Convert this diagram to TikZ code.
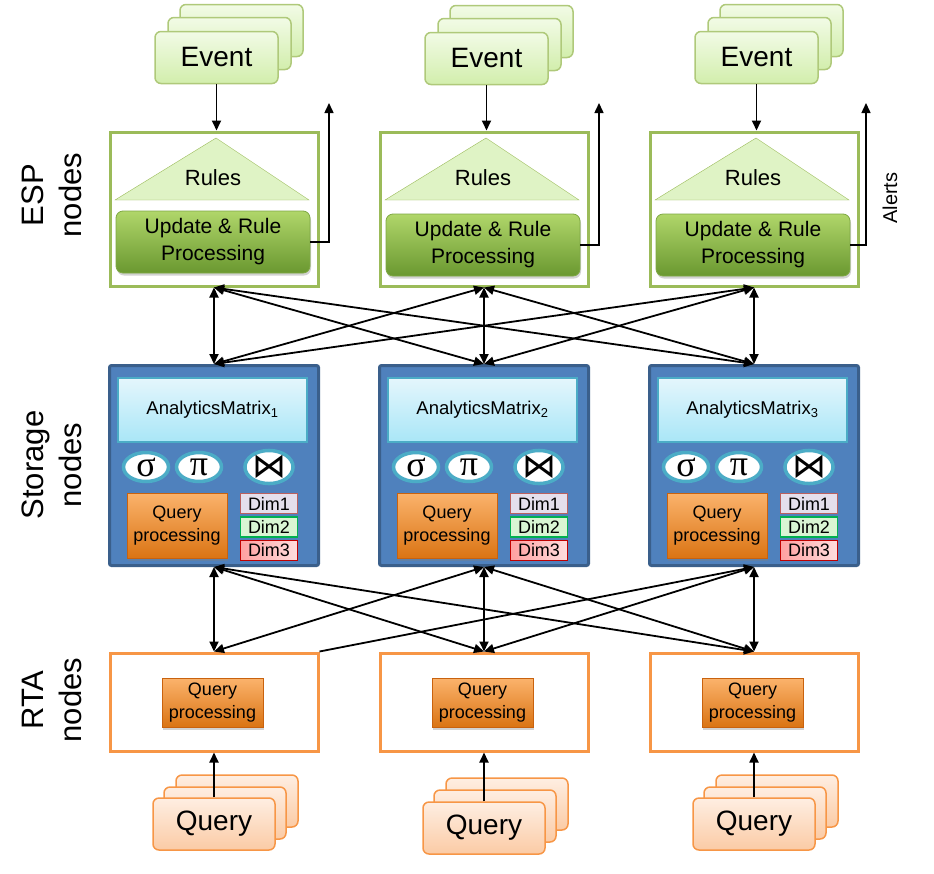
\documentclass[tikz,border=0pt]{standalone}
\usepackage{fontspec}
\setmainfont{Liberation Sans}
\newfontfamily\greekfont{Liberation Serif}
\newfontfamily\opsymfont{DejaVu Sans}
\usetikzlibrary{arrows.meta, positioning, shapes.geometric, shadows}

\definecolor{espgreen}{HTML}{9BBB59}
\definecolor{evtop}{HTML}{F2FBE6}
\definecolor{evbot}{HTML}{D2EEAC}
\definecolor{updtop}{HTML}{B0D66A}
\definecolor{updbot}{HTML}{6A9830}
\definecolor{updedge}{HTML}{7FA844}
\definecolor{stblue}{HTML}{4F81BD}
\definecolor{stedge}{HTML}{3A5F8B}
\definecolor{amtop}{HTML}{E4F6FC}
\definecolor{ambot}{HTML}{A9E6F7}
\definecolor{amedge}{HTML}{4BACC6}
\definecolor{qptop}{HTML}{FBB36C}
\definecolor{qpmid}{HTML}{F7962F}
\definecolor{qpbot}{HTML}{DA7414}
\definecolor{qpedge}{HTML}{C9620E}
\definecolor{rtaorange}{HTML}{F79646}
\definecolor{qutop}{HTML}{FEEEE2}
\definecolor{qubot}{HTML}{FBCBA5}
\definecolor{dimapurple}{HTML}{E4DFEC}
\definecolor{dimaedge}{HTML}{B9605E}
\definecolor{dimbgreen}{HTML}{D9F5D3}
\definecolor{dimbedge}{HTML}{00B050}
\definecolor{dimcred}{HTML}{FFA0A0}
\definecolor{dimcedge}{HTML}{C00000}

\begin{document}
\begin{tikzpicture}[x=1pt, y=-1pt, >={Triangle[length=10pt,width=9pt]},
    every node/.style={inner sep=0pt},
    evcard/.style={draw=espgreen!80!white, line width=1.5pt, rounded corners=6pt,
        top color=evtop, bottom color=evbot, minimum width=123pt, minimum height=52pt,
        font=\fontsize{28}{32}\selectfont},
    espbox/.style={draw=espgreen, line width=3pt, fill=white,
        minimum width=208pt, minimum height=154pt},
    updbox/.style={draw=updedge, line width=0.8pt, rounded corners=7pt,
        top color=updtop, bottom color=updbot, minimum width=194pt, minimum height=62pt,
        align=center, font=\fontsize{21}{27}\selectfont,
        drop shadow={shadow xshift=1pt, shadow yshift=-2.5pt, opacity=0.35}},
    stbox/.style={draw=stedge, line width=3pt, fill=stblue, rounded corners=2pt,
        minimum width=209pt, minimum height=200pt},
    ambox/.style={draw=amedge, line width=2pt, top color=amtop, bottom color=ambot,
        minimum width=189pt, minimum height=64pt, font=\fontsize{18.5}{20}\selectfont},
    opnode/.style={ellipse, draw=amedge, line width=3.5pt, fill=white,
        minimum width=45pt, minimum height=29pt, font=\fontsize{36}{36}\selectfont},
    qpbox/.style={draw=qpedge, line width=0.8pt, top color=qptop, middle color=qpmid,
        bottom color=qpbot, align=center, font=\fontsize{18}{23}\selectfont,
        drop shadow={shadow xshift=1pt, shadow yshift=-2.5pt, opacity=0.35}},
    dimbox/.style={line width=1.5pt, minimum width=57pt, minimum height=20pt,
        font=\fontsize{18}{20}\selectfont},
    rtabox/.style={draw=rtaorange, line width=3pt, fill=white,
        minimum width=208pt, minimum height=98pt},
    qucard/.style={draw=rtaorange, line width=1.5pt, rounded corners=6pt,
        top color=qutop, bottom color=qubot, minimum width=122pt, minimum height=52pt,
        font=\fontsize{28}{32}\selectfont},
    lbl/.style={rotate=90, align=center, font=\fontsize{31}{38}\selectfont},
    link/.style={<->, line width=1.8pt}]

    \useasboundingbox (0,0) rectangle (934,873);

    % row labels
    \node[lbl] (lesp) at (52,195) {ESP\\nodes};
    \node[lbl] (lsto) at (52,465) {Storage\\nodes};
    \node[lbl] (lrta) at (52,700) {RTA\\nodes};

    % ---- column 1
    \node[evcard] (Eb1) at (241.5,30.5) {};
    \node[evcard] (Em1) at (229.5,43.5) {};
    \node[evcard] (E1) at (216.5,57.5) {Event};
    \node[espbox] (ESP1) at (214,209) {};
    \draw[draw=espgreen, fill=evbot!70!white] (216,138) -- (115,200) -- (309,200) -- cycle;
    \node[font=\fontsize{22}{24}\selectfont] (rul1) at (213,178) {Rules};
    \node[updbox] (U1) at (213,242) {Update \& Rule\\Processing};
    \coordinate (al1) at (329,103);
    \draw[->, line width=1.8pt] (E1.south) -- (E1.south |- ESP1.north);
    \draw[->, line width=1.5pt] (U1.east) -| (al1);

    \node[stbox] (S1) at (214,465.5) {};
    \node[ambox] (M1) at (212.5,410) {AnalyticsMatrix\textsubscript{1}};
    \node[opnode] (sig1) at (146,467) {\greekfont σ};
    \node[opnode] (pi1) at (199,467) {\greekfont π};
    \node[opnode, font=\opsymfont\fontsize{34}{34}\selectfont] (join1) at (269,467) {⋈};
    \node[qpbox, minimum width=100pt, minimum height=65pt] (QS1) at (177,525.5) {Query\\processing};
    \node[dimbox, draw=dimaedge, fill=dimapurple] (Da1) at (269,503.5) {Dim1};
    \node[dimbox, draw=dimbedge, fill=dimbgreen, below=2pt of Da1] (Db1) {Dim2};
    \node[dimbox, draw=dimcedge, left color=dimcred, right color=dimcred!35!white, below=2pt of Db1] (Dc1) {Dim3};

    \node[rtabox] (T1) at (214,702) {};
    \node[qpbox, minimum width=101pt, minimum height=49pt] (QR1) at (212.5,702.5) {Query\\processing};
    \node[qucard] (Qb1) at (237,801) {};
    \node[qucard] (Qm1) at (225,813) {};
    \node[qucard] (Q1) at (214,824) {Query};
    \draw[->, line width=1.8pt] (Q1.north) -- (T1.south);

    % ---- column 2
    \node[evcard] (Eb2) at (511.5,31.5) {};
    \node[evcard] (Em2) at (499.5,44.5) {};
    \node[evcard] (E2) at (486.5,58.5) {Event};
    \node[espbox] (ESP2) at (484,209) {};
    \draw[draw=espgreen, fill=evbot!70!white] (486,138) -- (385,200) -- (579,200) -- cycle;
    \node[font=\fontsize{22}{24}\selectfont] (rul2) at (483,178) {Rules};
    \node[updbox] (U2) at (483,245) {Update \& Rule\\Processing};
    \coordinate (al2) at (599,103);
    \draw[->, line width=1.8pt] (E2.south) -- (E2.south |- ESP2.north);
    \draw[->, line width=1.5pt] (U2.east) -| (al2);

    \node[stbox] (S2) at (484,465.5) {};
    \node[ambox] (M2) at (482.5,410) {AnalyticsMatrix\textsubscript{2}};
    \node[opnode] (sig2) at (416,467) {\greekfont σ};
    \node[opnode] (pi2) at (469,467) {\greekfont π};
    \node[opnode, font=\opsymfont\fontsize{34}{34}\selectfont] (join2) at (539,467) {⋈};
    \node[qpbox, minimum width=100pt, minimum height=65pt] (QS2) at (447,525.5) {Query\\processing};
    \node[dimbox, draw=dimaedge, fill=dimapurple] (Da2) at (539,503.5) {Dim1};
    \node[dimbox, draw=dimbedge, fill=dimbgreen, below=2pt of Da2] (Db2) {Dim2};
    \node[dimbox, draw=dimcedge, left color=dimcred, right color=dimcred!35!white, below=2pt of Db2] (Dc2) {Dim3};

    \node[rtabox] (T2) at (484,702) {};
    \node[qpbox, minimum width=101pt, minimum height=49pt] (QR2) at (482.5,702.5) {Query\\processing};
    \node[qucard] (Qb2) at (507,804) {};
    \node[qucard] (Qm2) at (495,816) {};
    \node[qucard] (Q2) at (484,828) {Query};
    \draw[->, line width=1.8pt] (Q2.north) -- (T2.south);

    % ---- column 3
    \node[evcard] (Eb3) at (781.5,30.5) {};
    \node[evcard] (Em3) at (769.5,43.5) {};
    \node[evcard] (E3) at (756.5,57.5) {Event};
    \node[espbox] (ESP3) at (754,209) {};
    \draw[draw=espgreen, fill=evbot!70!white] (756,138) -- (655,200) -- (849,200) -- cycle;
    \node[font=\fontsize{22}{24}\selectfont] (rul3) at (753,178) {Rules};
    \node[updbox] (U3) at (753,245) {Update \& Rule\\Processing};
    \coordinate (al3) at (866,103);
    \draw[->, line width=1.8pt] (E3.south) -- (E3.south |- ESP3.north);
    \draw[->, line width=1.5pt] (U3.east) -| (al3);
    \node[rotate=90, font=\fontsize{20}{22}\selectfont] (alerts) at (890,198) {Alerts};

    \node[stbox] (S3) at (754,465.5) {};
    \node[ambox] (M3) at (752.5,410) {AnalyticsMatrix\textsubscript{3}};
    \node[opnode] (sig3) at (686,467) {\greekfont σ};
    \node[opnode] (pi3) at (739,467) {\greekfont π};
    \node[opnode, font=\opsymfont\fontsize{34}{34}\selectfont] (join3) at (809,467) {⋈};
    \node[qpbox, minimum width=100pt, minimum height=65pt] (QS3) at (717,525.5) {Query\\processing};
    \node[dimbox, draw=dimaedge, fill=dimapurple] (Da3) at (809,503.5) {Dim1};
    \node[dimbox, draw=dimbedge, fill=dimbgreen, below=2pt of Da3] (Db3) {Dim2};
    \node[dimbox, draw=dimcedge, left color=dimcred, right color=dimcred!35!white, below=2pt of Db3] (Dc3) {Dim3};

    \node[rtabox] (T3) at (754,702) {};
    \node[qpbox, minimum width=101pt, minimum height=49pt] (QR3) at (752.5,702.5) {Query\\processing};
    \node[qucard] (Qb3) at (777,801) {};
    \node[qucard] (Qm3) at (765,813) {};
    \node[qucard] (Q3) at (754,824) {Query};
    \draw[->, line width=1.8pt] (Q3.north) -- (T3.south);

    % ESP <-> storage
    \draw[link] (ESP1.south) -- (S1.north);
    \draw[link] (ESP1.south) -- (S2.north);
    \draw[link] (ESP1.south) -- (S3.north);
    \draw[link] (ESP2.south) -- (S1.north);
    \draw[link] (ESP2.south) -- (S2.north);
    \draw[link] (ESP2.south) -- (S3.north);
    \draw[link] (ESP3.south) -- (S1.north);
    \draw[link] (ESP3.south) -- (S2.north);
    \draw[link] (ESP3.south) -- (S3.north);

    % storage <-> RTA
    \draw[link] (S1.south) -- (T1.north);
    \draw[link] (S1.south) -- (T2.north);
    \draw[link] (S1.south) -- (T3.north);
    \draw[link] (S2.south) -- (T1.north);
    \draw[link] (S2.south) -- (T2.north);
    \draw[link] (S2.south) -- (T3.north);
    \draw[<-, line width=1.8pt] (S3.south) -- (T1.north east);
    \draw[link] (S3.south) -- (T2.north);
    \draw[link] (S3.south) -- (T3.north);
\end{tikzpicture}
\end{document}
